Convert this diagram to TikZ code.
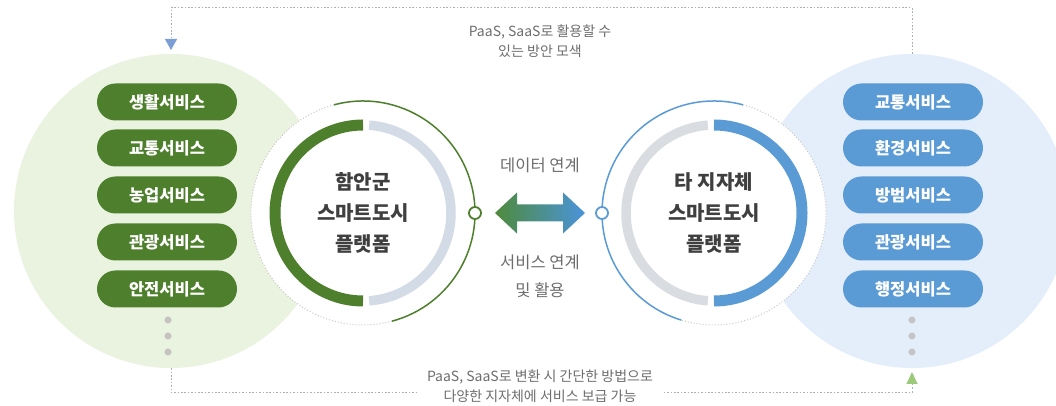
\documentclass[tikz,border=0pt]{standalone}
\usepackage{fontspec}
\setmainfont{Noto Sans CJK KR}
\usetikzlibrary{arrows.meta,calc}
\definecolor{palegreen}{HTML}{E9F3E0}
\definecolor{paleblue}{HTML}{E3EEFA}
\definecolor{dkgreen}{HTML}{4E7F2C}
\definecolor{mblue}{HTML}{5B9BD5}
\definecolor{greyarcL}{HTML}{D3DBE6}
\definecolor{greyarcR}{HTML}{D9DDE2}
\definecolor{labelgrey}{HTML}{3F3F3F}
\definecolor{txtgrey}{HTML}{6E6E6E}
\definecolor{dotgrey}{HTML}{C4C4C4}
\definecolor{ringdot}{HTML}{C8C8C8}
\definecolor{linegrey}{HTML}{A8B0BA}
\definecolor{tipblue}{HTML}{7B9FD4}
\definecolor{tipgreen}{HTML}{9CC97A}
\definecolor{arrowgreen}{HTML}{4F8A3C}
\definecolor{arrowblue}{HTML}{4A94DB}
\tikzset{
  bigcircle/.style={circle, minimum size=314pt, inner sep=0pt, draw=none},
  pillL/.style={rounded corners=18.5pt, fill=dkgreen, minimum width=140pt, minimum height=37pt, inner sep=0pt, text=white, font=\fontsize{16.5}{18}\selectfont\bfseries},
  pillR/.style={pillL, fill=mblue},
  ringlabel/.style={align=center, text=labelgrey, font=\fontsize{20}{31}\selectfont\bfseries},
  greytext/.style={align=center, text=txtgrey, font=\fontsize{14}{19.5}\selectfont},
  midtext/.style={align=center, text=txtgrey, font=\fontsize{16.5}{28}\selectfont},
  dotmark/.style={circle, fill=dotgrey, minimum size=7pt, inner sep=0pt},
  joint/.style={circle, fill=white, line width=1.8pt, minimum size=12pt, inner sep=0pt},
  conn/.style={linegrey, line width=0.9pt, dash pattern=on 1.6pt off 1.8pt},
}
\begin{document}
\begin{tikzpicture}[x=1pt,y=1pt]
\useasboundingbox (0,0) rectangle (1056,406);
\clip (0,0) rectangle (1056,406);
\fill[white] (0,0) rectangle (1056,406);
% big circles
\node (Lc) [bigcircle, fill=palegreen] at (171,195) {};
\node (Rc) [bigcircle, fill=paleblue] at (912,195) {};
% ring discs
\coordinate (LR) at (363,193);
\coordinate (RR) at (714,193);
\fill[white] (LR) circle (112);
\fill[white] (RR) circle (112);
% left ring
\draw[dkgreen, line width=11pt] ($(LR)+(90:88)$) arc (90:270:88);
\draw[greyarcL, line width=9.5pt] ($(LR)+(-86:88)$) arc (-86:86:88);
\draw[dkgreen, line width=1.5pt] ($(LR)+(-75:112)$) arc (-75:105:112);
\draw[ringdot, line width=1pt, dotted] ($(LR)+(105:112)$) arc (105:285:112);
% right ring
\draw[mblue, line width=11pt] ($(RR)+(90:88)$) arc (90:-90:88);
\draw[greyarcR, line width=9.5pt] ($(RR)+(94:88)$) arc (94:266:88);
\draw[mblue, line width=1.5pt] ($(RR)+(75:112)$) arc (75:253:112);
\draw[ringdot, line width=1pt, dotted] ($(RR)+(75:112)$) arc (75:-107:112);
% ring labels
\node (Llab) [ringlabel] at (363,193) {함안군\\스마트도시\\플랫폼};
\node (Rlab) [ringlabel] at (714,193) {타 지자체\\스마트도시\\플랫폼};
% joints
\node (jL) [joint, draw=dkgreen] at (475,193) {};
\node (jR) [joint, draw=mblue] at (602,193) {};
% double arrow
\shade[left color=arrowgreen, right color=arrowblue]
  (495,193) -- (517,213.5) -- (517,201.5) -- (563,201.5) -- (563,213.5) -- (585,193)
  -- (563,172.5) -- (563,184.5) -- (517,184.5) -- (517,172.5) -- cycle;
\node (data) [midtext] at (540,241) {데이터 연계};
\node (serv) [midtext] at (540,130) {서비스 연계\\및 활용};
% pills left
\node (lp1) [pillL] at (167,304) {생활서비스};
\node (lp2) [pillL] at (167,258) {교통서비스};
\node (lp3) [pillL] at (167,211) {농업서비스};
\node (lp4) [pillL] at (167,164) {관광서비스};
\node (lp5) [pillL] at (167,117) {안전서비스};
\node (ld1) [dotmark] at (168,86) {};
\node (ld2) [dotmark] at (168,70) {};
\node (ld3) [dotmark] at (168,54) {};
% pills right
\node (rp1) [pillR] at (913,304) {교통서비스};
\node (rp2) [pillR] at (913,258) {환경서비스};
\node (rp3) [pillR] at (913,211) {방범서비스};
\node (rp4) [pillR] at (913,164) {관광서비스};
\node (rp5) [pillR] at (913,117) {행정서비스};
\node (rd1) [dotmark] at (912,86) {};
\node (rd2) [dotmark] at (912,70) {};
\node (rd3) [dotmark] at (912,54) {};
% connectors
\coordinate (topL) at (171,356);
\coordinate (botR) at (912,34);
\draw[conn, -{Triangle[length=11pt,width=12pt,color=tipblue,fill=tipblue]}] (Rc.north) -- ++(0,46) -| (topL);
\draw[conn, -{Triangle[length=12pt,width=11pt,color=tipgreen,fill=tipgreen]}] (Lc.south) -- ++(0,-24) -| (botR);
\node (toptext) [greytext] at (540,365) {PaaS, SaaS로 활용할 수\\있는 방안 모색};
\node (bottext) [greytext, fill=white, inner xsep=10pt, inner ysep=1pt] at (540,20) {PaaS, SaaS로 변환 시 간단한 방법으로\\다양한 지자체에 서비스 보급 가능};
\end{tikzpicture}
\end{document}
